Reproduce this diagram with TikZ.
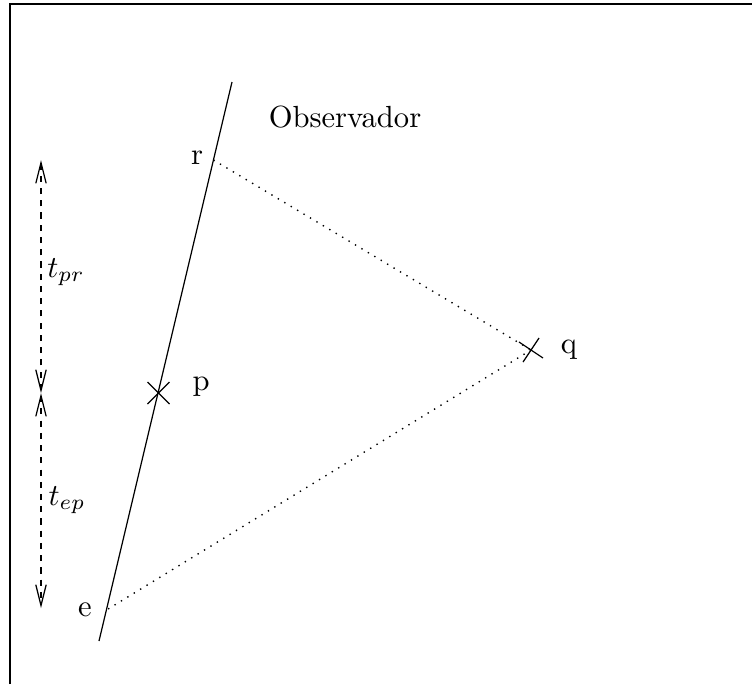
\documentclass[tikz,border=0pt]{standalone}
\usepackage{amsmath,amssymb}
\usetikzlibrary{arrows.meta}
\tikzset{
  interval/.style={dashed,dash pattern=on 2pt off 2pt,{Straight Barb[length=6.8pt,width=3.4pt]}-{Straight Barb[length=6.8pt,width=3.4pt]}},
  signal/.style={dotted,line width=0.45pt}
}

\begin{document}
\begin{tikzpicture}[x=0.327pt,y=-0.327pt,line width=0.4pt]
\useasboundingbox (0,0) rectangle (752,684);
% marco
\draw[line width=0.6pt] (10,684)--(10,4)--(752,4);
% linea de universo del observador
\coordinate (bot) at (99,641); \coordinate (top) at (232,82);
\draw (bot)--(top);
\coordinate (r) at (213.5,160); \coordinate (p) at (158.5,393);
\coordinate (e) at (106.5,610); \coordinate (q) at (531,350);
\draw (p)++(-11,-11)--++(22,22); \draw (p)++(-11,11)--++(22,-22);
\draw (q)++(-12,-8)--++(24,16); \draw (q)++(-8,12)--++(16,-24);
\draw[signal] (r)--(q); \draw[signal] (q)--(e);
\node (lr) at (197,158){r}; \node (lp) at (201,387){p};
\node (lq) at (569,350){q}; \node (le) at (85,610){e};
\node (obs) at (345,117){Observador};
% intervalos de tiempo propio
\coordinate (a1) at (41,160); \coordinate (a2) at (41,393); \coordinate (a3) at (41,608);
\draw[interval] (a2)--(a1); \draw[interval] (a2)--(a3);
\node (tpr) at (66,272){$t_{pr}$}; \node (tep) at (67,500){$t_{ep}$};
\end{tikzpicture}
\end{document}
